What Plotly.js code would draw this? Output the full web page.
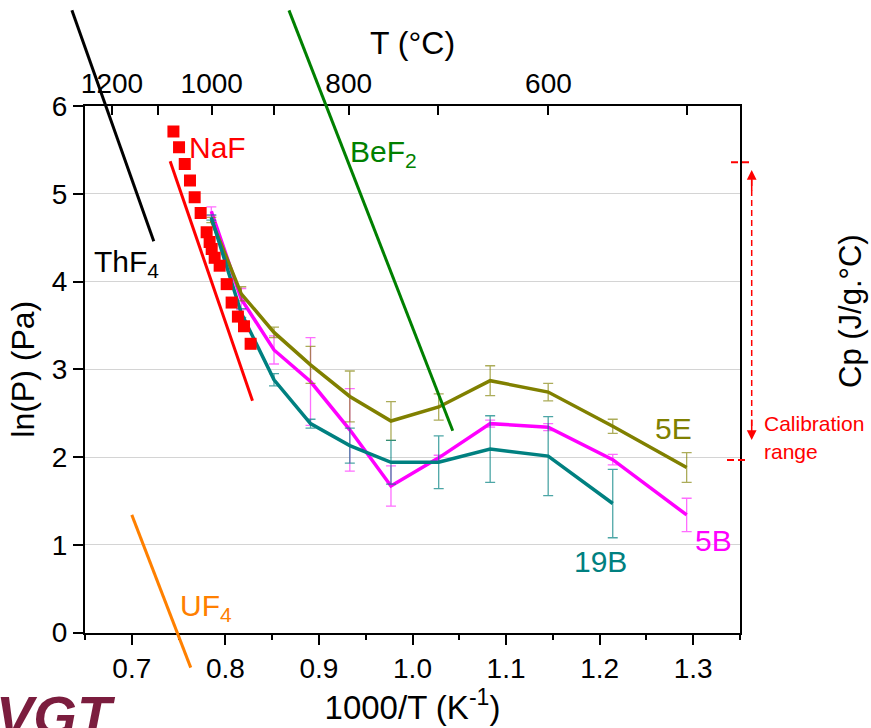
<!DOCTYPE html>
<html>
<head>
<meta charset="utf-8">
<script src="https://cdn.plot.ly/plotly-3.0.1.min.js"></script>
<style>html,body{margin:0;padding:0;background:#fff;}#chart{width:871px;height:728px;}</style>
</head>
<body>
<div id="chart"></div>
<script>
// ---------------- data ----------------
// measured series, x = 1000/T (K^-1), y = ln(P) (Pa)
const x5E  = [0.785, 0.817, 0.852, 0.891, 0.933, 0.977, 1.028, 1.083, 1.145, 1.214, 1.293];
const y5E  = [4.70, 3.86, 3.42, 3.05, 2.69, 2.41, 2.57, 2.87, 2.74, 2.35, 1.88];
const e5E  = [0.03, 0.08, 0.06, 0.21, 0.29, 0.22, 0.15, 0.17, 0.10, 0.08, 0.17];

const x5B  = [0.785, 0.817, 0.852, 0.891, 0.933, 0.977, 1.028, 1.083, 1.145, 1.214, 1.293];
const y5B  = [4.80, 3.80, 3.22, 2.86, 2.31, 1.67, 1.99, 2.38, 2.34, 1.97, 1.34];
const e5B  = [0.05, 0.12, 0.16, 0.50, 0.47, 0.23, 0.03, 0.04, 0.04, 0.06, 0.19];

const x19B = [0.785, 0.817, 0.852, 0.891, 0.933, 0.977, 1.028, 1.083, 1.145, 1.214];
const y19B = [4.73, 3.64, 2.88, 2.38, 2.13, 1.94, 1.94, 2.09, 2.01, 1.47];
const e19B = [0.03, 0.05, 0.07, 0.05, 0.20, 0.25, 0.30, 0.38, 0.45, 0.39];

// NaF measured points
const xNaF = [0.7445, 0.7505, 0.7566, 0.7622, 0.7672, 0.7736, 0.7800, 0.7832, 0.7854, 0.7886, 0.7939, 0.8014, 0.8067, 0.8134, 0.8199, 0.8270];
const yNaF = [5.71, 5.53, 5.34, 5.15, 4.96, 4.78, 4.56, 4.45, 4.37, 4.27, 4.18, 3.97, 3.76, 3.60, 3.49, 3.29];

// literature vapour-pressure lines (end points)
const xNaFline = [0.741, 0.829];  const yNaFline = [5.37, 2.64];
const xThF4    = [0.636, 0.7235]; const yThF4    = [7.09, 4.46];
const xBeF2    = [0.868, 1.043];  const yBeF2    = [7.09, 2.30];
const xUF4     = [0.700, 0.763];  const yUF4     = [1.34, -0.40];

// axis ticks
const xTicks    = [0.7, 0.8, 0.9, 1.0, 1.1, 1.2, 1.3];
const xTickText = ['0.7', '0.8', '0.9', '1.0', '1.1', '1.2', '1.3'];
const yTicks    = [0, 1, 2, 3, 4, 5, 6];
const topTempC  = [1200, 1100, 1000, 900, 800, 700, 600, 500];
const topLabel  = ['1200', '', '1000', '', '800', '', '600', ''];

// ---------------- layout geometry ----------------
const W = 871, H = 728;
const L = 85, R = 740, T = 106, B = 632.5;
const xr = [0.65, 1.35], yr = [0, 6];
const sx = (xr[1] - xr[0]) / (R - L), sy = (yr[1] - yr[0]) / (B - T);
const x2r = [xr[0] - L * sx, xr[1] + (W - R) * sx];
const y2r = [yr[0] - (H - B) * sy, yr[1] + T * sy];
const px = v => v / W, py = v => 1 - v / H;

const FONT = '"Liberation Sans", Arial, Helvetica, sans-serif';
const topTickVals = topTempC.map(t => 1000 / (t + 273.15));

const olive = '#808000', magenta = '#ff00ff', teal = '#008080';

const traces = [
  {x: x5B, y: y5B, mode: 'lines', line: {color: magenta, width: 3.5},
   error_y: {type: 'data', array: e5B, visible: true, color: 'rgba(255,60,255,0.75)', thickness: 1.3, width: 5},
   xaxis: 'x', yaxis: 'y', showlegend: false},
  {x: x5E, y: y5E, mode: 'lines', line: {color: olive, width: 3.5},
   error_y: {type: 'data', array: e5E, visible: true, color: 'rgba(128,128,0,0.65)', thickness: 1.3, width: 5},
   xaxis: 'x', yaxis: 'y', showlegend: false},
  {x: x19B, y: y19B, mode: 'lines', line: {color: teal, width: 3.5},
   error_y: {type: 'data', array: e19B, visible: true, color: 'rgba(0,128,128,0.7)', thickness: 1.3, width: 5},
   xaxis: 'x', yaxis: 'y', showlegend: false},
  {x: xNaFline, y: yNaFline, mode: 'lines', line: {color: '#ff0000', width: 3},
   xaxis: 'x', yaxis: 'y', showlegend: false},
  {x: xNaF, y: yNaF, mode: 'markers', marker: {symbol: 'square', size: 12, color: '#ff0000'},
   xaxis: 'x', yaxis: 'y', showlegend: false},
  // invisible companion trace so that the top (temperature) axis is drawn
  {x: xNaF, y: yNaF, mode: 'markers', marker: {size: 1, opacity: 0}, hoverinfo: 'skip',
   xaxis: 'x4', yaxis: 'y', showlegend: false},
  {x: xThF4, y: yThF4, mode: 'lines', line: {color: '#000000', width: 3},
   xaxis: 'x2', yaxis: 'y2', showlegend: false},
  {x: xBeF2, y: yBeF2, mode: 'lines', line: {color: '#008000', width: 3},
   xaxis: 'x2', yaxis: 'y2', showlegend: false},
  {x: xUF4, y: yUF4, mode: 'lines', line: {color: '#ff8000', width: 3},
   xaxis: 'x2', yaxis: 'y2', showlegend: false}
];

const lab = (text, x, y, color, size, xanchor) => ({
  text: text, xref: 'paper', yref: 'paper', x: px(x), y: py(y), xanchor: xanchor || 'left', yanchor: 'middle',
  showarrow: false, font: {family: FONT, size: size || 30, color: color}
});

const layout = {
  width: W, height: H,
  margin: {l: 0, r: 0, t: 0, b: 0, pad: 0},
  paper_bgcolor: '#ffffff', plot_bgcolor: 'rgba(0,0,0,0)',
  font: {family: FONT, color: '#000'},
  xaxis: {
    domain: [L / W, R / W], range: xr, anchor: 'y',
    showline: true, linecolor: '#000', linewidth: 2, mirror: false,
    ticks: 'outside', ticklen: 10, tickwidth: 2, tickcolor: '#000',
    tickmode: 'array', tickvals: xTicks, ticktext: xTickText,
    minor: {dtick: 0.05, tick0: 0.65, ticks: 'outside', ticklen: 5, tickwidth: 2, tickcolor: '#000', showgrid: false},
    tickfont: {family: FONT, size: 28, color: '#000'},
    showgrid: false, zeroline: false,
    title: {text: '1000/T (K<sup>-1</sup>)', font: {family: FONT, size: 33, color: '#000'}, standoff: 6}
  },
  yaxis: {
    domain: [1 - B / H, 1 - T / H], range: yr, anchor: 'x',
    showline: true, linecolor: '#000', linewidth: 2, mirror: true,
    ticks: 'outside', ticklen: 10, tickwidth: 2, tickcolor: '#000',
    tickmode: 'array', tickvals: yTicks,
    tickfont: {family: FONT, size: 28, color: '#000'},
    showgrid: true, gridcolor: '#d4d4d4', gridwidth: 1, zeroline: false,
    title: {text: 'ln(P) (Pa)', font: {family: FONT, size: 32, color: '#000'}, standoff: 8}
  },
  xaxis4: {
    overlaying: 'x', side: 'top', anchor: 'y', range: xr,
    showline: true, linecolor: '#000', linewidth: 2,
    ticks: 'inside', ticklen: 9, tickwidth: 2, tickcolor: '#000',
    tickmode: 'array', tickvals: topTickVals, ticktext: topLabel,
    tickfont: {family: FONT, size: 28, color: '#000'},
    showgrid: false, zeroline: false,
    title: {text: 'T (°C)', font: {family: FONT, size: 32, color: '#000'}, standoff: 4}
  },
  xaxis2: {domain: [0, 1], range: x2r, anchor: 'y2', visible: false, fixedrange: true},
  yaxis2: {domain: [0, 1], range: y2r, anchor: 'x2', visible: false, fixedrange: true},
  shapes: [
    {type: 'line', xref: 'paper', yref: 'paper', x0: px(751.7), x1: px(751.7), y0: py(180), y1: py(430),
     line: {color: '#ff0000', width: 1.5, dash: '6px,4px'}},
    {type: 'line', xref: 'paper', yref: 'paper', x0: px(731), x1: px(751), y0: py(162.3), y1: py(162.3),
     line: {color: '#ff0000', width: 2, dash: '7px,4px'}},
    {type: 'line', xref: 'paper', yref: 'paper', x0: px(727), x1: px(747), y0: py(460), y1: py(460),
     line: {color: '#ff0000', width: 2, dash: '7px,4px'}}
  ],
  annotations: [
    lab('NaF', 187, 148, '#ff0000'),
    lab('BeF<sub>2</sub>', 348, 153, '#008000'),
    lab('ThF<sub>4</sub>', 92, 263, '#000000'),
    lab('UF<sub>4</sub>', 178, 607, '#ff8000'),
    lab('5E', 653, 428, olive),
    lab('5B', 693, 540, magenta),
    lab('19B', 572, 561, teal),
    lab('Calibration', 762, 423, '#ff0000', 21),
    lab('range', 762, 451, '#ff0000', 21),
    {text: 'Cp (J/g.°C)', xref: 'paper', yref: 'paper', x: px(850), y: py(311), xanchor: 'center', yanchor: 'middle',
     textangle: -90, showarrow: false, font: {family: FONT, size: 31, color: '#000'}},
    // arrow heads of the calibration range
    {text: '', xref: 'paper', yref: 'paper', x: px(751.7), y: py(170), axref: 'pixel', ayref: 'pixel', ax: 0, ay: 22,
     showarrow: true, arrowhead: 2, arrowsize: 1.3, arrowwidth: 1.5, arrowcolor: '#ff0000'},
    {text: '', xref: 'paper', yref: 'paper', x: px(751.7), y: py(440), axref: 'pixel', ayref: 'pixel', ax: 0, ay: -22,
     showarrow: true, arrowhead: 2, arrowsize: 1.3, arrowwidth: 1.5, arrowcolor: '#ff0000'},
    // cropped logo in the lower-left corner
    {text: '<b><i>VGT</i></b>', xref: 'paper', yref: 'paper', x: px(-6), y: py(682), xanchor: 'left', yanchor: 'top',
     showarrow: false, font: {family: FONT, size: 56, color: '#7b1d3e'}}
  ]
};

Plotly.newPlot('chart', traces, layout, {staticPlot: true, displayModeBar: false});
</script>
</body>
</html>
